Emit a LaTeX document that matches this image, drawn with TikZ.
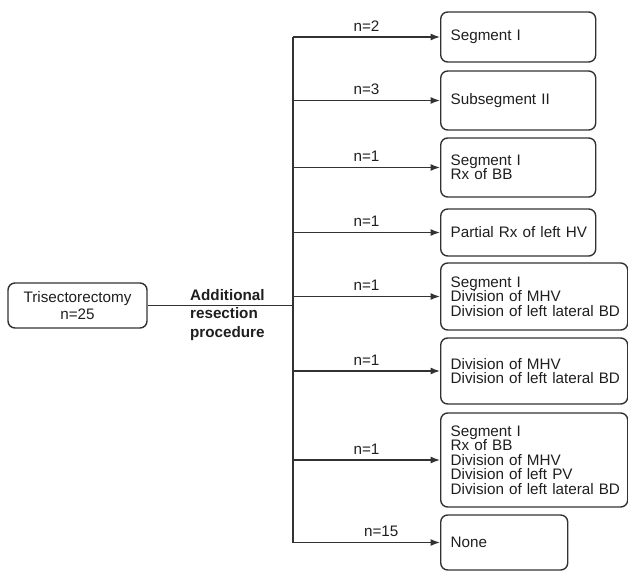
\documentclass[tikz,border=0pt]{standalone}
\usepackage{fontspec}
\setmainfont{Liberation Sans}
\usetikzlibrary{positioning,arrows.meta}
\definecolor{ink}{RGB}{30,30,30}
\definecolor{edge}{RGB}{50,50,50}
\tikzset{
  stage/.style={draw=edge, line width=1.2pt, rounded corners=6pt, anchor=west, align=left,
              text=ink, inner xsep=0.3cm, inner ysep=0pt, text width=#1,
              font=\fontsize{13}{12.3}\selectfont},
  start/.style={draw=edge, line width=1.2pt, rounded corners=6pt, align=center, text=ink,
              minimum width=4.17cm, minimum height=1.35cm, inner sep=0pt,
              font=\fontsize{13}{15}\selectfont},
  note/.style={anchor=west, align=left, text=ink, font=\bfseries\fontsize{13}{16}\selectfont},
  arr/.style={-{Latex[length=2.8mm,width=2.1mm]}, line width=1.3pt, draw=edge},
  wire/.style={line width=1.3pt, draw=edge},
  lbl/.style={above=1pt, text=ink, font=\fontsize{13}{14}\selectfont},
}
% keep a line unbroken inside a fixed-width box
\newcommand{\oneline}[1]{\mbox{#1}}

\begin{document}
\begin{tikzpicture}[x=0.03cm, y=-0.03cm]
  \useasboundingbox (0,0) rectangle (628,571);

  % origin
  \node[start] (tri) at (77.5,305.5) {Trisectorectomy\\n=25};
  \node[note]  (add) at (186,315) {Additional\\resection\\procedure};

  % outcome boxes
  \node[stage=4.05cm, minimum height=1.5cm]  (s1) at (440,37)    {Segment I};
  \node[stage=4.05cm, minimum height=1.77cm] (s2) at (440,100.5) {Subsegment II};
  \node[stage=4.05cm, minimum height=1.77cm] (s3) at (440,167.5) {Segment I\\Rx of BB};
  \node[stage=4.05cm, minimum height=1.41cm] (s4) at (440,232.5)
    {\oneline{Partial Rx of left HV}};
  \node[stage=5.01cm, minimum height=2.01cm] (s5) at (440,296.5)
    {Segment I\\Division of MHV\\\oneline{Division of left lateral BD}};
  \node[stage=5.01cm, minimum height=1.98cm] (s6) at (440,371)
    {Division of MHV\\\oneline{Division of left lateral BD}};
  \node[stage=5.01cm, minimum height=2.82cm] (s7) at (440,460)
    {Segment I\\Rx of BB\\Division of MHV\\Division of left PV\\\oneline{Division of left lateral BD}};
  \node[stage=3.21cm, minimum height=1.65cm] (s8) at (440,542.5) {None};

  % trunk
  \coordinate (x0) at (293,0);
  \coordinate (top) at (x0 |- s1.west);
  \coordinate (bot) at (x0 |- s8.west);
  \coordinate (mid) at (x0 |- tri.east);
  \draw[wire] (tri.east) -- (mid);
  \draw[wire] (top) -- (bot);

  % branches
  \draw[arr] (top) -- node[lbl] {n=2} (s1.west);
  \draw[arr] (top |- s2.west) -- node[lbl] {n=3} (s2.west);
  \draw[arr] (top |- s3.west) -- node[lbl] {n=1} (s3.west);
  \draw[arr] (top |- s4.west) -- node[lbl] {n=1} (s4.west);
  \draw[arr] (top |- s5.west) -- node[lbl] {n=1} (s5.west);
  \draw[arr] (top |- s6.west) -- node[lbl] {n=1} (s6.west);
  \draw[arr] (top |- s7.west) -- node[lbl] {n=1} (s7.west);
  \draw[arr] (bot) -- node[lbl, pos=0.6] {n=15} (s8.west);
\end{tikzpicture}
\end{document}
